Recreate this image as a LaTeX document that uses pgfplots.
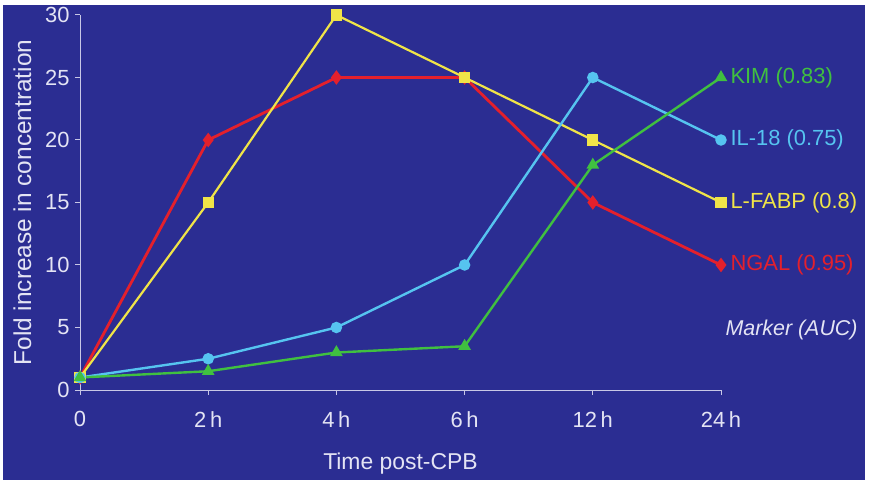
\documentclass[border=0pt]{standalone}
\usepackage{pgfplots}
\pgfplotsset{compat=1.18}
\usepackage{fontspec}
\setmainfont{Liberation Sans}
\definecolor{bg}{RGB}{43,45,146}
\definecolor{txt}{RGB}{228,228,244}
\definecolor{axl}{RGB}{200,200,230}
\definecolor{cred}{RGB}{228,32,44}
\definecolor{cyel}{RGB}{240,228,72}
\definecolor{cblue}{RGB}{86,196,240}
\definecolor{cgreen}{RGB}{64,192,64}
\begin{document}
\begin{tikzpicture}
\fill[white] (0,0) rectangle (870bp,485bp);
\fill[bg] (3bp,5bp) rectangle (865bp,480bp);
\begin{axis}[
  at={(80bp,95bp)}, anchor=south west,
  scale only axis, width=641bp, height=375bp,
  xmin=0, xmax=5, ymin=0, ymax=30,
  xtick={0,1,2,3,4,5},
  xticklabels={0,2\,h,4\,h,6\,h,12\,h,24\,h},
  ytick={0,5,10,15,20,25,30},
  axis x line=bottom, axis y line=left,
  axis line style={-, axl, line width=1pt},
  tick style={axl, line width=1pt},
  tick align=outside, major tick length=5bp,
  font=\fontsize{22}{24}\selectfont,
  /pgf/number format/assume math mode=true,
  tick label style={txt},
  yticklabel style={xshift=-2bp},
  xticklabel style={yshift=-13bp},
  xlabel={Time post-CPB},
  ylabel={Fold increase in concentration},
  xlabel style={txt, font=\fontsize{23}{25}\selectfont, at={(axis description cs:0.5,-0.195)}, anchor=center},
  ylabel style={txt, font=\fontsize{24.5}{26}\selectfont, at={(axis description cs:-0.09,0.5)}, anchor=center},
  clip=false,
]
\addplot[cred, line width=2.8pt, mark=diamond*, mark size=5bp] coordinates {(0,1) (1,20) (2,25) (3,25) (4,15) (5,10)};
\addplot[cyel, line width=2.2pt, mark=square*, mark size=4.5bp] coordinates {(0,1) (1,15) (2,30) (3,25) (4,20) (5,15)};
\addplot[cblue, line width=2.4pt, mark=*, mark size=4.5bp] coordinates {(0,1) (1,2.5) (2,5) (3,10) (4,25) (5,20)};
\addplot[cgreen, line width=2.4pt, mark=triangle*, mark size=5bp] coordinates {(0,1) (1,1.5) (2,3) (3,3.5) (4,18) (5,25)};
\node[anchor=west, text=cgreen] at (axis cs:5,25) {\hspace{6bp}KIM (0.83)};
\node[anchor=west, text=cblue] at (axis cs:5,20) {\hspace{6bp}IL-18 (0.75)};
\node[anchor=west, text=cyel] at (axis cs:5,15) {\hspace{6bp}L-FABP (0.8)};
\node[anchor=west, text=cred] at (axis cs:5,10) {\hspace{6bp}NGAL (0.95)};
\node[anchor=west, text=txt, font=\fontsize{21.5}{24}\selectfont\itshape] at (axis cs:5,4.8) {\hspace{1bp}Marker (AUC)};
\end{axis}
\end{tikzpicture}
\end{document}
